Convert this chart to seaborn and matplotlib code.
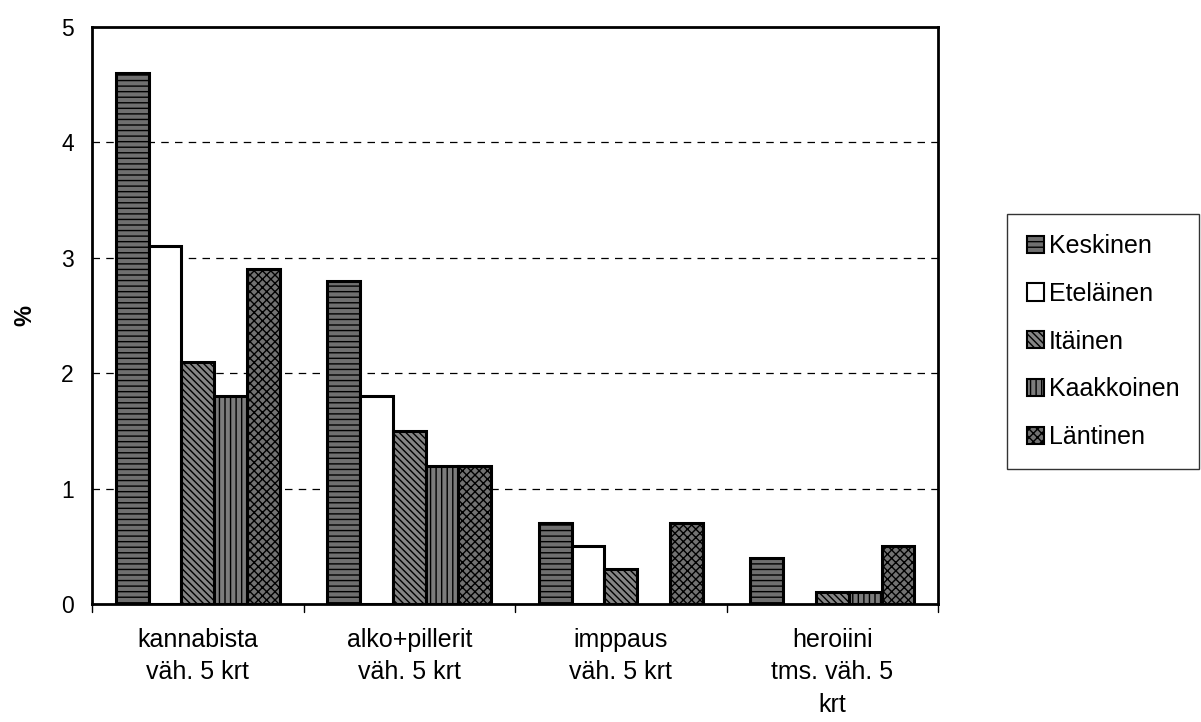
import matplotlib
matplotlib.use("Agg")
import matplotlib.pyplot as plt
import seaborn as sns
import pandas as pd

categories = ["kannabista\nväh. 5 krt", "alko+pillerit\nväh. 5 krt",
              "imppaus\nväh. 5 krt", "heroiini\ntms. väh. 5\nkrt"]
regions = ["Keskinen", "Eteläinen", "Itäinen", "Kaakkoinen", "Läntinen"]
keskinen = [4.6, 2.8, 0.7, 0.4]
etelainen = [3.1, 1.8, 0.5, 0.0]
itainen = [2.1, 1.5, 0.3, 0.1]
kaakkoinen = [1.8, 1.2, 0.0, 0.1]
lantinen = [2.9, 1.2, 0.7, 0.5]

series = [keskinen, etelainen, itainen, kaakkoinen, lantinen]
df = pd.DataFrame({
    "kategoria": [c for _ in regions for c in categories],
    "alue": [r for r in regions for _ in categories],
    "arvo": [v for s in series for v in s],
})

sns.set_theme(style="white")
plt.rcParams["font.family"] = ["Liberation Sans", "DejaVu Sans"]
plt.rcParams["hatch.linewidth"] = 1.0
plt.rcParams["text.color"] = "black"
plt.rcParams["axes.labelcolor"] = "black"
plt.rcParams["xtick.color"] = "black"
plt.rcParams["ytick.color"] = "black"

fig = plt.figure(figsize=(12.01, 7.22), dpi=100)
ax = fig.add_axes([0.0766, 0.1634, 0.7045, 0.7992])

sns.barplot(data=df, x="kategoria", y="arvo", hue="alue", order=categories,
            hue_order=regions, width=0.775, ax=ax, legend=False,
            edgecolor="black", linewidth=2.2)

styles = [
    ("#6f6f6f", "---"),
    ("white", ""),
    ("#858585", "\\\\\\\\\\"),
    ("#7c7c7c", "|||"),
    ("#727272", "xxxx"),
]
for cont, (fc, hatch) in zip(ax.containers, styles):
    for bar in cont:
        bar.set_facecolor(fc)
        bar.set_hatch(hatch)
        bar.set_edgecolor("black")
        if bar.get_height() == 0:
            bar.set_visible(False)

ax.set_ylim(0, 5)
ax.set_xlim(-0.5, 3.5)
ax.set_yticks([0, 1, 2, 3, 4, 5])
ax.set_yticklabels(["0", "1", "2", "3", "4", "5"], fontsize=16.5)
ax.set_xticks([0, 1, 2, 3])
ax.set_xticklabels(categories, fontsize=18, linespacing=1.45)
ax.tick_params(axis="x", length=0, pad=17)
ax.tick_params(axis="y", direction="inout", length=10, width=1, pad=8)
for x in [-0.5, 0.5, 1.5, 2.5, 3.5]:
    ax.plot([x, x], [0, -0.07], color="black", lw=1, clip_on=False)

for y in [1, 2, 3, 4]:
    ax.axhline(y, color="black", lw=0.9, ls=(0, (6, 5)), zorder=0)

for sp in ax.spines.values():
    sp.set_color("black")
    sp.set_linewidth(2)

ax.set_xlabel("")
ax.set_ylabel("%", fontsize=17, fontweight="bold", labelpad=18)

handles = [plt.Rectangle((0, 0), 1, 1, facecolor=fc, hatch=h, edgecolor="black", lw=1.5)
           for fc, h in styles]
leg = fig.legend(handles, regions, loc="center left", bbox_to_anchor=(0.8385, 0.527),
                 fontsize=18, frameon=True, fancybox=False, handlelength=0.68,
                 handleheight=0.68, handletextpad=0.18, labelspacing=0.95,
                 borderpad=0.8, borderaxespad=0)
leg.get_frame().set_edgecolor("black")
leg.get_frame().set_linewidth(1)

fig.savefig("out.png", dpi=100)
